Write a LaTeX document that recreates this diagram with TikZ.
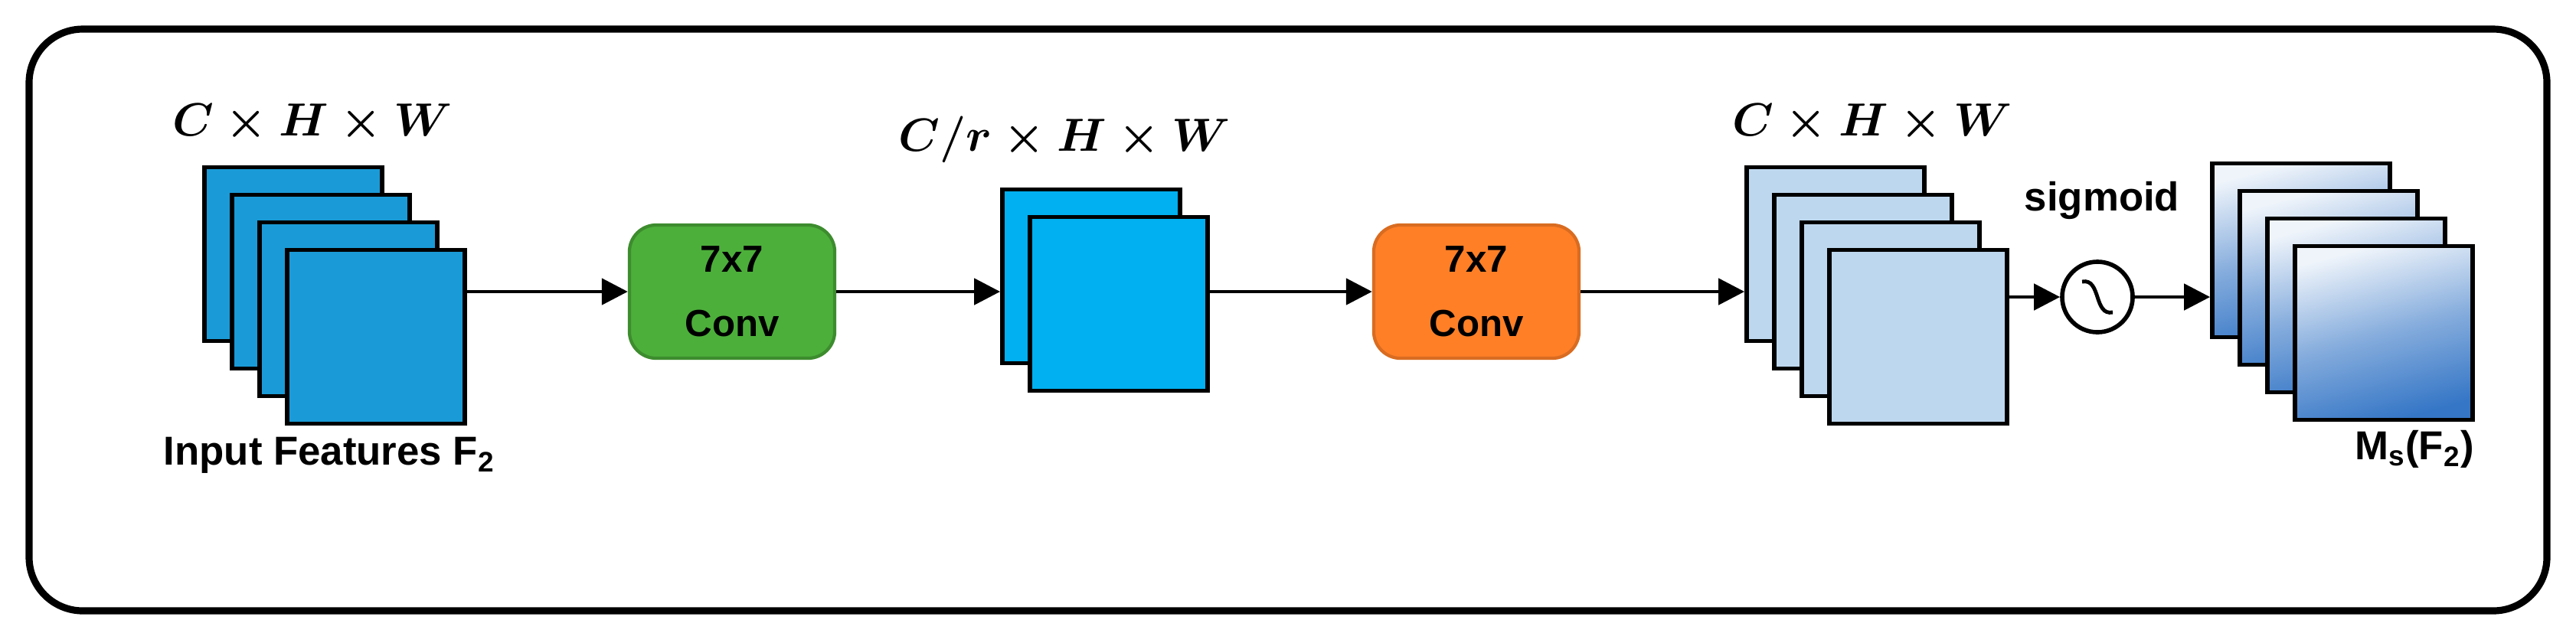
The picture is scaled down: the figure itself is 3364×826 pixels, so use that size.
\documentclass[tikz,border=0pt]{standalone}
\usepackage{amsmath,amsbsy}
\usepackage{fontspec}
\setmainfont{Liberation Sans}
\usetikzlibrary{calc, positioning}
\usetikzlibrary{arrows.meta}
\definecolor{featblue}{HTML}{1A9BD7}
\definecolor{redblue}{HTML}{00B0F0}
\definecolor{paleblue}{HTML}{BDD7EE}
\definecolor{mapblue}{HTML}{3576C6}
\definecolor{convgreen}{HTML}{4CAF3A}
\definecolor{convorange}{HTML}{FF7F27}
\def\sw{2.32cm}
\def\sh{2.27cm}
\def\gap{36}
\tikzset{
    sheet/.style = {
        draw, rectangle, minimum width=\sw, minimum height=\sh, line width=1.6pt, inner sep=0pt
    },
    convbox/.style = {
        draw, rectangle, rounded corners=0.35cm, minimum width=2.68cm, minimum height=1.74cm,
        line width=1.2pt, align=center, font=\fontsize{14}{24}\selectfont\bfseries
    },
    dims/.style = {font=\fontsize{17}{18}\selectfont},
    caption/.style = {font=\fontsize{15}{18}\selectfont\bfseries},
}

\begin{document}
\begin{tikzpicture}[x=0.01cm, y=-0.01cm]
        \useasboundingbox (0,0) rectangle (3364,826);
        % Outer frame
        \draw[line width=2.6pt, rounded corners=0.7cm] (38,38) rectangle (3326,798);

        % Feature stacks
        \foreach \i in {3,2,1,0}{
            \node[sheet, fill=featblue] (sa-\i) at (491-\gap*\i, 440-\gap*\i) {};
        }
        \foreach \i in {1,0}{
            \node[sheet, fill=redblue] (sb-\i) at (1461-\gap*\i, 397-\gap*\i) {};
        }
        \foreach \i in {3,2,1,0}{
            \node[sheet, fill=paleblue] (sc-\i) at (2505-\gap*\i, 440-\gap*\i) {};
        }
        \foreach \i in {3,2,1,0}{
            \node[sheet, top color=mapblue!8, bottom color=mapblue, middle color=mapblue!60, shading angle=15] (sd-\i) at (3113-\gap*\i, 435-\gap*\i) {};
        }

        % Conv blocks and sigmoid
        \node[convbox, fill=convgreen, draw=convgreen!80!black] (conva) at (956,381) {7x7\\Conv};
        \node[convbox, fill=convorange, draw=convorange!85!black] (convb) at (1928,381) {7x7\\Conv};
        \node[draw, circle, line width=1.6pt, minimum size=0.92cm] (sig) at (2739,388) {};
        \draw[line width=1.4pt] ($(sig.center)+(-20,-20)$) .. controls ($(sig.center)+(5,-25)$) and ($(sig.center)+(-5,25)$) .. ($(sig.center)+(20,20)$);

        % Labels
        \node[dims] (dima) at (408,161) {$\boldsymbol{C\times H\times W}$};
        \node[dims] (dimb) at (1390,182) {$\boldsymbol{C/r\times H\times W}$};
        \node[dims] (dimc) at (2445,161) {$\boldsymbol{C\times H\times W}$};
        \node[caption] (inlab) at (430,595) {Input Features F\textsubscript{2}};
        \node[caption] (siglab) at (2745,262) {sigmoid};
        \node[caption] (outlab) at (3153,587) {M\textsubscript{s}(F\textsubscript{2})};

        % Connections
        \begin{scope}[line width=1.4pt, >={Triangle[width=0.34cm,length=0.34cm]}]
            \draw[->] (sa-0.east |- conva.west) -- (conva.west);
            \draw[->] (conva.east) -- (sb-1.west |- conva.east);
            \draw[->] (sb-0.east |- convb.west) -- (convb.west);
            \draw[->] (convb.east) -- (sc-3.west |- convb.east);
            \draw[->] (sc-0.east |- sig.west) -- (sig.west);
            \draw[->] (sig.east) -- (sd-3.west |- sig.east);
        \end{scope}
    \end{tikzpicture}
\end{document}
